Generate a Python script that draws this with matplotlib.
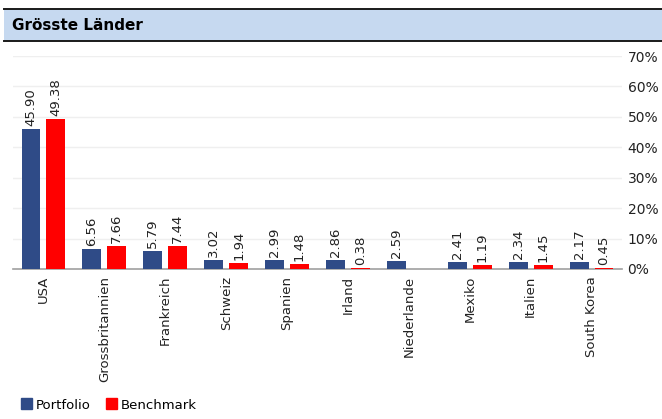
import numpy as np
import matplotlib.pyplot as plt
from matplotlib.patches import Rectangle
from matplotlib.lines import Line2D

# data
countries = ['USA', 'Grossbritannien', 'Frankreich', 'Schweiz', 'Spanien',
             'Irland', 'Niederlande', 'Mexiko', 'Italien', 'South Korea']
portfolio = [45.90, 6.56, 5.79, 3.02, 2.99, 2.86, 2.59, 2.41, 2.34, 2.17]
benchmark = [49.38, 7.66, 7.44, 1.94, 1.48, 0.38, np.nan, 1.19, 1.45, 0.45]
y_ticks = [0, 10, 20, 30, 40, 50, 60, 70]

navy = '#2f4b87'
red = '#ff0000'

plt.rcParams['font.family'] = ['DejaVu Sans']

fig = plt.figure(figsize=(6.62, 4.19), dpi=100)

# header band
fig.patches.append(Rectangle((4 / 662, 1 - 41 / 419), 1, 32 / 419, transform=fig.transFigure,
                             facecolor='#c6d9f0', edgecolor='none', zorder=0))
for yy in (9, 41):
    fig.lines.append(Line2D([4 / 662, 1], [1 - yy / 419] * 2, transform=fig.transFigure,
                            color='#1a1a1a', lw=1.4))
fig.text(12 / 662, 1 - 25 / 419, 'Grösste Länder', fontsize=11, fontweight='bold',
         va='center', ha='left', color='black')

ax = fig.add_axes([13 / 662, 1 - 269 / 419, 609 / 662, 213 / 419])
x = np.arange(len(countries))
w = 0.31
off = 0.205
ax.bar(x - off, portfolio, w, color=navy, zorder=3)
ax.bar(x + off, benchmark, w, color=red, zorder=3)

for xi, p, b in zip(x, portfolio, benchmark):
    ax.text(xi - off, p + 1.0, f'{p:.2f}', rotation=90, ha='center', va='bottom',
            fontsize=9.5, color='#222222')
    if not np.isnan(b):
        ax.text(xi + off, b + 1.0, f'{b:.2f}', rotation=90, ha='center', va='bottom',
                fontsize=9.5, color='#222222')

ax.set_xlim(-0.5, len(countries) - 0.5)
ax.set_ylim(0, 70)
ax.set_yticks(y_ticks)
ax.set_yticklabels([f'{t}%' for t in y_ticks], fontsize=10, color='#222222')
ax.yaxis.tick_right()
ax.tick_params(axis='y', length=0, pad=4)
ax.set_xticks(x)
ax.set_xticklabels(countries, rotation=90, fontsize=9.5, color='#222222')
ax.tick_params(axis='x', length=0, pad=5)
ax.grid(axis='y', color='#efefef', lw=1, zorder=0)
for s in ('top', 'left', 'right'):
    ax.spines[s].set_visible(False)
ax.spines['bottom'].set_color('#a0a0a0')
ax.spines['bottom'].set_linewidth(1.2)

# legend
handles = [Rectangle((0, 0), 1, 1, color=navy), Rectangle((0, 0), 1, 1, color=red)]
fig.legend(handles, ['Portfolio', 'Benchmark'], loc='center left',
           bbox_to_anchor=(21 / 662, 1 - 405 / 419), ncol=2, frameon=False,
           fontsize=9.5, handlelength=0.8, handleheight=0.9, handletextpad=0.3,
           columnspacing=1.2, borderaxespad=0, borderpad=0)

fig.savefig('out.png', dpi=100)
